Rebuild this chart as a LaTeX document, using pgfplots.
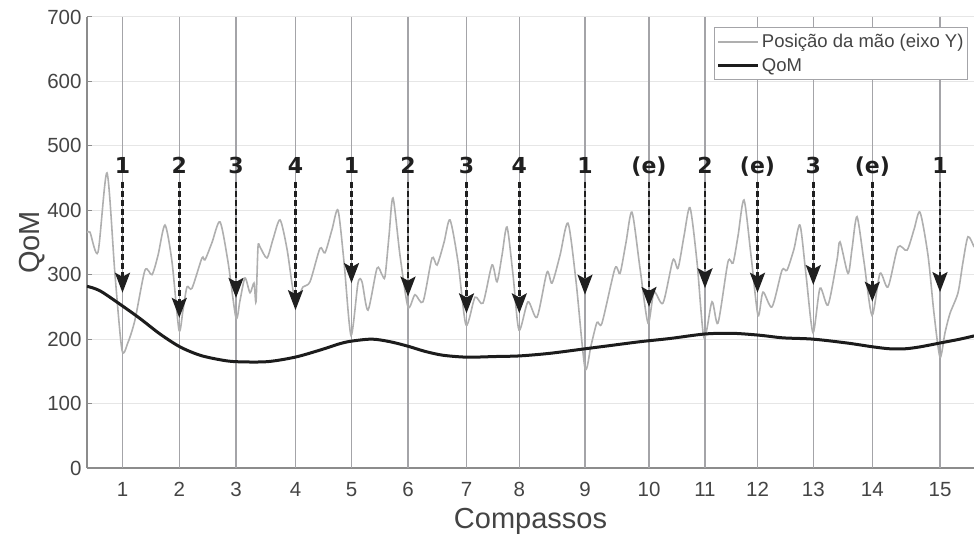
\documentclass[border=0pt]{standalone}
\usepackage{pgfplots}
\pgfplotsset{compat=1.18}
\usepackage{fontspec}
\setmainfont{Liberation Sans}
\newfontfamily\beatfont{DejaVu Sans}
\usetikzlibrary{arrows.meta}

\definecolor{handgray}{HTML}{AFAFAF}
\definecolor{qomblack}{HTML}{1C1C1C}
\definecolor{barline}{HTML}{A4A4A8}
\definecolor{gridgray}{HTML}{E6E6E6}
\definecolor{axisgray}{HTML}{8C8C8C}
\definecolor{labelgray}{HTML}{444444}

% beat markers: x position (measure line), arrow tip value
\pgfplotstableread{
x      tip
122.5  272
179.3  233
236    264
295.5  245
351.5  287
408    266
466.5  240
519.3  240
585    269
649    250
705    279
757.5  272
813.3  284
872.3  258
940    273
}\beats

\begin{document}
\begin{tikzpicture}
\begin{axis}[
    scale only axis, width=887pt, height=451pt,
    xmin=87, xmax=974, ymin=0, ymax=700,
    axis x line*=bottom, axis y line*=left,
    axis line style={draw=axisgray, line width=1.2pt},
    xtick={122.5,179.3,236,295.5,351.5,408,466.5,519.3,585,649,705,757.5,813.3,872.3,940},
    xticklabels={1,2,3,4,5,6,7,8,9,10,11,12,13,14,15},
    ytick={0,100,...,700},
    ymajorgrids, grid style={draw=gridgray, line width=1pt},
    tick align=inside, major tick length=5pt,
    tick style={draw=axisgray, line width=1pt},
    ticklabel style={font=\fontsize{20.5}{20.5}\selectfont, text=labelgray},
    yticklabel style={xshift=-2pt},
    xticklabel style={yshift=-11pt},
    /pgf/number format/assume math mode=true,
    xlabel={Compassos}, ylabel={QoM},
    xlabel style={at={(axis description cs:0.5,0)}, anchor=base, yshift=-61pt,
        font=\fontsize{29}{29}\selectfont, text=labelgray},
    ylabel style={at={(axis description cs:-0.053,0.5)}, anchor=base, rotate=0,
        font=\fontsize{29}{29}\selectfont, text=labelgray},
    legend style={at={(axis description cs:0.9932,0.978)}, anchor=north east,
        draw=barline, line width=1pt, fill=white,
        font=\fontsize{18.5}{18.5}\selectfont, text=labelgray,
        inner xsep=2pt, inner ysep=5pt, row sep=5pt, cells={anchor=west}},
    legend image code/.code={\draw[#1] (0pt,0pt) -- (40pt,0pt);},
]

% measure lines
\addplot[ycomb, draw=barline, line width=1.5pt, forget plot] coordinates {
(122.5,700) (179.3,700) (236,700) (295.5,700) (351.5,700) (408,700) (466.5,700)
(519.3,700) (585,700) (649,700) (705,700) (757.5,700) (813.3,700) (872.3,700) (940,700)};

% hand position (Y axis)
\addplot[handgray, line width=1.6pt, smooth, tension=0.45] coordinates {
(87,365) (90,366) (98,335) (107,458) (115,300) (122,183) (128,195) (135,230)
(145,307) (152,300) (158,330) (165,377) (172,320) (179,214) (183,245) (187,281)
(192,279) (202,326) (205,323) (212,350) (220,382) (228,320) (236,233) (240,260)
(245,295) (250,272) (254,287) (256,258) (258,343) (260,343) (267,326) (273,355)
(280,385) (287,340) (295,261) (303,281) (310,289) (320,341) (325,334) (332,370)
(338,400) (344,320) (351,206) (358,287) (362,289) (368,245) (377,310) (382,300)
(385,297) (389,360) (393,419) (400,330) (408,250) (415,269) (423,258) (432,326)
(437,315) (444,350) (450,385) (458,320) (466,222) (475,265) (483,256) (492,315)
(497,289) (502,330) (507,374) (513,300) (519,214) (528,258) (537,234) (547,304)
(552,287) (560,330) (568,380) (576,290) (585,155) (591,190) (597,226) (602,225)
(615,310) (620,302) (626,350) (632,397) (640,310) (648,225) (654,273) (663,256)
(673,323) (678,310) (684,360) (690,404) (697,320) (704,202) (712,258) (718,225)
(728,320) (733,318) (738,360) (744,416) (751,330) (758,237) (763,273) (772,250)
(782,307) (787,307) (794,340) (800,377) (806,300) (813,210) (820,279) (828,253)
(837,323) (840,351) (848,302) (852,340) (857,390) (864,320) (872,237) (880,302)
(888,281) (898,343) (907,338) (914,370) (920,397) (928,330) (934,240) (940,172)
(945,210) (950,240) (958,272) (963,320) (968,359) (974,343)};
\addlegendentry{Posição da mão (eixo Y)}

% QoM
\addplot[qomblack, line width=3pt, smooth] coordinates {
(87,282) (100,275) (122,252) (140,232) (160,208) (180,188) (200,175) (220,168)
(236,165) (267,165) (295,172) (320,183) (340,193) (352,197) (372,200) (390,196)
(408,189) (425,181) (443,175) (467,172) (495,173) (520,174) (550,178) (585,185)
(610,190) (640,196) (670,201) (705,208) (733,209) (760,206) (783,202) (813,200)
(847,194) (873,188) (890,185) (905,185) (920,188) (940,194) (960,200) (974,205)};
\addlegendentry{QoM}

% beat arrows
\pgfplotsinvokeforeach{0,...,14}{
  \pgfplotstablegetelem{#1}{x}\of\beats \let\bx\pgfplotsretval
  \pgfplotstablegetelem{#1}{tip}\of\beats \let\bt\pgfplotsretval
  \edef\temp{\noexpand\addplot[draw=black!88, line width=2.5pt, dash pattern=on 6pt off 3pt,
     -{Stealth[length=20pt,width=15pt,inset=4pt]}, forget plot]
     coordinates {(\bx,444) (\bx,\bt)};}
  \temp
}

\pgfplotsforeachungrouped \xx/\lab in {122.5/1,179.3/2,236/3,295.5/4,351.5/1,408/2,466.5/3,519.3/4,585/1,649/(e),705/2,757.5/(e),813.3/3,872.3/(e),940/1}{
  \edef\temp{\noexpand\node[font=\noexpand\beatfont\noexpand\bfseries\noexpand\fontsize{22}{22}\noexpand\selectfont,
     text=black!88, anchor=base] at (axis cs:\xx,457) {\lab};}
  \temp
}
\end{axis}
\pgfresetboundingbox
\useasboundingbox ([shift={(-87pt,-67pt)}]current axis.south west) rectangle ([shift={(0pt,17pt)}]current axis.north east);
\end{tikzpicture}
\end{document}
